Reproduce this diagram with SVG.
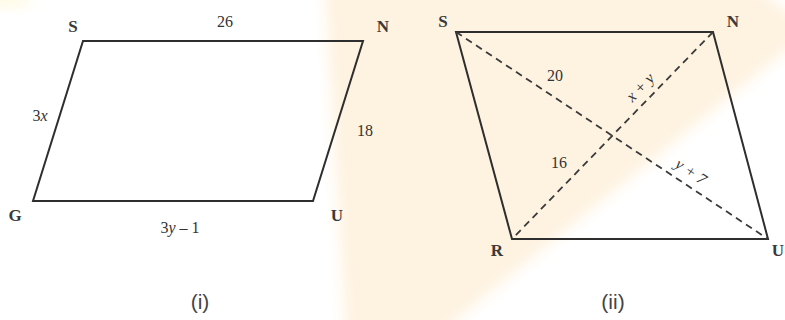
<svg xmlns="http://www.w3.org/2000/svg" width="785" height="320" viewBox="0 0 785 320">
<style>
.edge{fill:none;stroke:#2e2e2e;stroke-width:2;stroke-linejoin:miter}
.diag{fill:none;stroke:#3a3a3a;stroke-width:1.8;stroke-dasharray:7 5}
.v{font-family:"Liberation Serif",serif;font-size:17px;font-weight:bold;fill:#3a3a3a;text-anchor:middle}
.n{font-family:"Liberation Serif",serif;font-size:16px;fill:#333;text-anchor:middle}
.it{font-style:italic}
.cap{font-family:"Liberation Sans",sans-serif;font-size:21px;fill:#444;text-anchor:middle}
</style>
<defs>
<filter id="blur" x="-20%" y="-20%" width="140%" height="140%"><feGaussianBlur stdDeviation="7"/></filter>
</defs>
<rect width="785" height="320" fill="#ffffff"/>
<polygon points="324,-20 745,-20 800,20 800,40 432,340 346,340" fill="#fef3e1" filter="url(#blur)"/>
<ellipse cx="5" cy="0" rx="28" ry="9" fill="#fffbe6" filter="url(#blur)"/>
<g id="figure-i">
<polygon class="edge" points="83,41 363,41 313,201 33,201"/>
<text class="v" x="73" y="32">S</text>
<text class="v" x="383" y="32">N</text>
<text class="v" x="15" y="221">G</text>
<text class="v" x="337" y="221">U</text>
<text class="n" x="225" y="27">26</text>
<text class="n" x="40" y="121">3<tspan class="it">x</tspan></text>
<text class="n" x="365" y="136">18</text>
<text class="n" x="180" y="233">3<tspan class="it">y</tspan> – 1</text>
<text class="cap" x="200" y="309">(i)</text>
</g>
<g id="figure-ii">
<polygon class="edge" points="456,32 713,32 768,239 512,239"/>
<line class="diag" x1="456" y1="32" x2="768" y2="239"/>
<line class="diag" x1="713" y1="32" x2="512" y2="239"/>
<text class="v" x="443" y="27">S</text>
<text class="v" x="733" y="27">N</text>
<text class="v" x="497" y="256">R</text>
<text class="v" x="778" y="256">U</text>
<text class="n" x="555" y="81">20</text>
<text class="n" x="559" y="168">16</text>
<text class="n it" transform="translate(644,91) rotate(-46)">x + y</text>
<text class="n it" transform="translate(688,176) rotate(34)">y + 7</text>
<text class="cap" x="613" y="309">(ii)</text>
</g>
</svg>
